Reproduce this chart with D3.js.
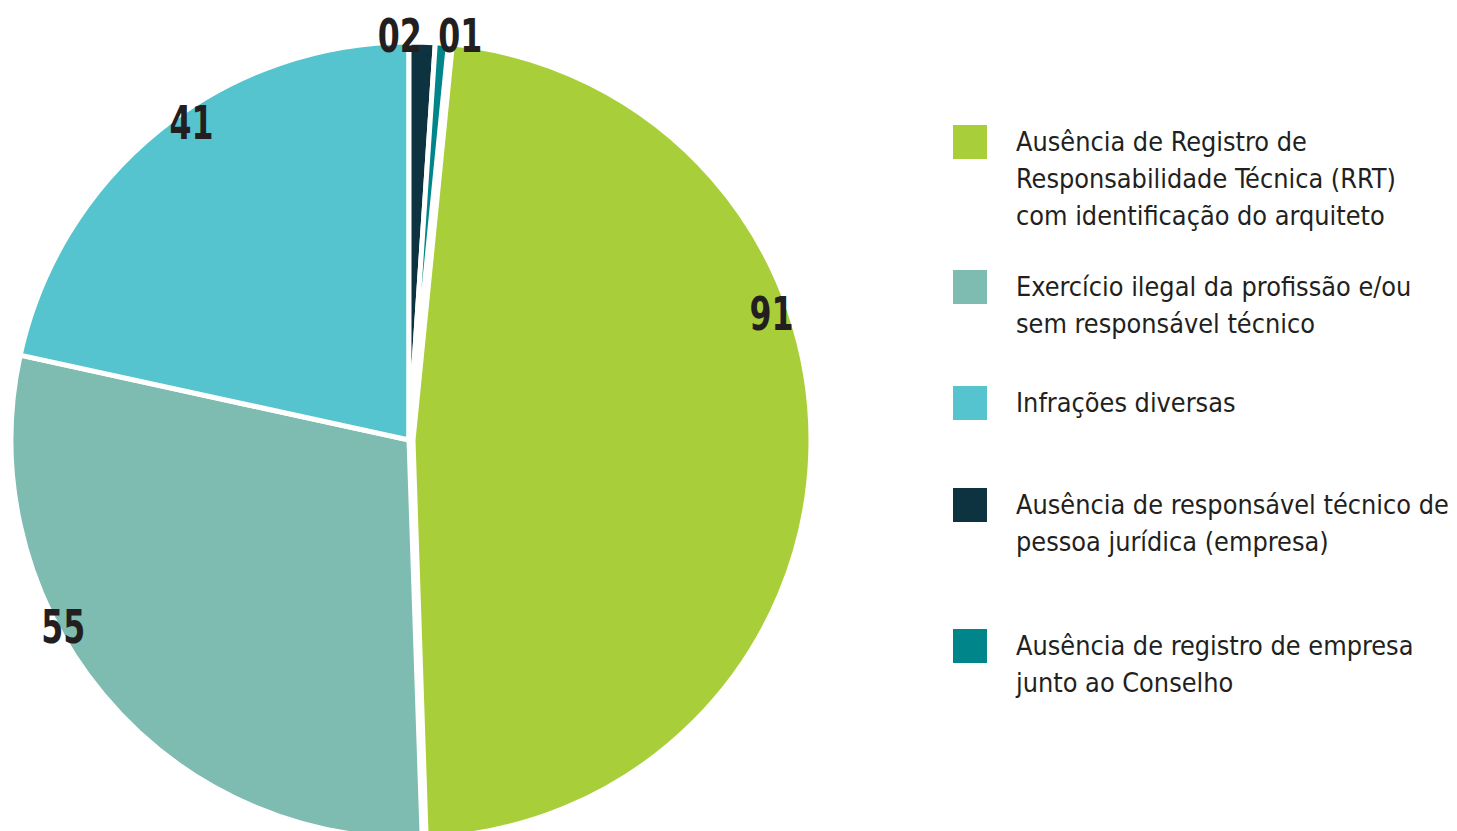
<!DOCTYPE html>
<html>
<head>
<meta charset="utf-8">
<script src="https://cdn.jsdelivr.net/npm/d3@7"></script>
<style>
  html, body { margin: 0; padding: 0; background: #fff; overflow: hidden; }
  svg { display: block; }
</style>
</head>
<body>
<div id="chart"></div>
<script>
// data, in legend order
const categories = [
  ["Ausência de Registro de", "Responsabilidade Técnica (RRT)", "com identificação do arquiteto"],
  ["Exercício ilegal da profissão e/ou", "sem responsável técnico"],
  ["Infrações diversas"],
  ["Ausência de responsável técnico de", "pessoa jurídica (empresa)"],
  ["Ausência de registro de empresa", "junto ao Conselho"]
];
const values = [91, 55, 41, 2, 1];
const valueLabels = ["91", "55", "41", "02", "01"];
const colors = ["#a8cf39", "#7ebcb1", "#56c4ce", "#0d3341", "#00868a"];

// layout only
const width = 1457, height = 831;
const cx = 409, cy = 440, radius = 398;
const labelAngles = [70.7, 241.6, 325.6, -1.3, 7.2];   // degrees, clockwise from top
const labelRadii = [384, 393, 385, 405, 408];
const explode = [4, 0, 0, 0, 0];
const legendTops = [125, 270, 386, 488, 629];

const svg = d3.select("#chart")
  .append("svg")
  .attr("width", width)
  .attr("height", height);

// the two small slices come first at 12 o'clock, so start the pie after them
const total = d3.sum(values);
const smallSum = values[3] + values[4];
const start = 2 * Math.PI * smallSum / total;

const pie = d3.pie()
  .sort(null)
  .value(d => d)
  .startAngle(start)
  .endAngle(start + 2 * Math.PI);

const arcs = pie(values);
const arc = d3.arc().innerRadius(0).outerRadius(radius);

const g = svg.append("g").attr("transform", `translate(${cx},${cy})`);

g.selectAll("path")
  .data(arcs)
  .enter()
  .append("path")
  .attr("d", arc)
  .attr("transform", (d, i) => {
    const mid = (d.startAngle + d.endAngle) / 2;
    return `translate(${Math.sin(mid) * explode[i]},${-Math.cos(mid) * explode[i]})`;
  })
  .style("fill", (d, i) => colors[i])
  .style("stroke", "#fff")
  .style("stroke-width", 5)
  .style("stroke-linejoin", "miter");

g.selectAll("text.value")
  .data(arcs)
  .enter()
  .append("text")
  .attr("class", "value")
  .attr("x", (d, i) => Math.sin(labelAngles[i] * Math.PI / 180) * labelRadii[i])
  .attr("y", (d, i) => -Math.cos(labelAngles[i] * Math.PI / 180) * labelRadii[i])
  .attr("text-anchor", "middle")
  .attr("dominant-baseline", "central")
  .attr("textLength", 44)
  .attr("lengthAdjust", "spacingAndGlyphs")
  .style("font-family", "'DejaVu Sans Condensed', sans-serif")
  .style("font-weight", "bold")
  .style("font-size", "47px")
  .style("fill", "#231f20")
  .text((d, i) => valueLabels[i]);

// legend
const legend = svg.append("g");
const items = legend.selectAll("g.item")
  .data(categories)
  .enter()
  .append("g")
  .attr("class", "item")
  .attr("transform", (d, i) => `translate(953,${legendTops[i]})`);

items.append("rect")
  .attr("width", 34)
  .attr("height", 34)
  .style("fill", (d, i) => colors[i]);

items.each(function (lines) {
  const t = d3.select(this).append("text")
    .style("font-family", "'DejaVu Sans Condensed', sans-serif")
    .style("font-size", "26.8px")
    .style("fill", "#231f20");
  lines.forEach((line, j) => {
    t.append("tspan")
      .attr("x", 63)
      .attr("y", 26 + j * 37)
      .text(line);
  });
});
</script>
</body>
</html>
